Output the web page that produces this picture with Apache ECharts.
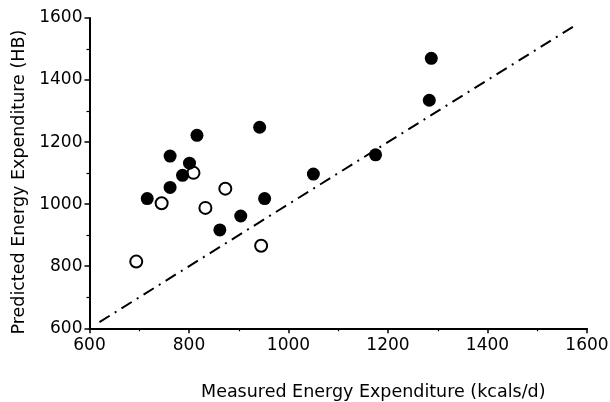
<!DOCTYPE html>
<html>
<head>
<meta charset="utf-8">
<script src="https://cdn.jsdelivr.net/npm/echarts@6/dist/echarts.min.js"></script>
<style>html,body{margin:0;padding:0;background:#fff;}#c{width:610px;height:402px;}</style>
</head>
<body>
<div id="c"></div>
<script>
// Measured (x) vs predicted HB (y), kcal/d
const filledX = [716, 762, 762, 787, 801, 816, 862, 904, 942, 952, 1050, 1175, 1283, 1287];
const filledY = [1018, 1054, 1155, 1093, 1132, 1222, 917, 962, 1248, 1018, 1097, 1159, 1335, 1470];
const openX = [694, 745, 809, 833, 873, 945];
const openY = [815, 1003, 1101, 988, 1050, 866];
const identityLine = [620, 1580];
const xTicks = [600, 800, 1000, 1200, 1400, 1600];
const yTicks = [600, 800, 1000, 1200, 1400, 1600];

const zip = (a, b) => a.map((v, i) => [v, b[i]]);
const font = 'DejaVu Sans';
const chart = echarts.init(document.getElementById('c'), null, {renderer: 'canvas'});
const axisCommon = {
  type: 'value', min: 600, max: 1600, interval: 200,
  axisLine: {show: true, onZero: false, lineStyle: {color: '#000', width: 2}},
  axisTick: {show: true, inside: false, length: 5, lineStyle: {color: '#000', width: 1.5}},
  minorTick: {show: true, splitNumber: 2, length: 3, lineStyle: {color: '#000', width: 1.2}},
  splitLine: {show: false},
  nameLocation: 'middle'
};
chart.setOption({
  animation: false,
  backgroundColor: '#fff',
  grid: {left: 89.5, right: 23, top: 18, bottom: 73.7, containLabel: false, outerBoundsMode: 'none'},
  xAxis: Object.assign({}, axisCommon, {
    name: 'Measured Energy Expenditure (kcals/d)',
    nameGap: 55,
    nameTextStyle: {fontFamily: font, fontSize: 17.5, color: '#000', padding: [0, 0, 0, 70]},
    axisLabel: {fontFamily: font, fontSize: 17, color: '#000', margin: 9,
      customValues: xTicks, formatter: v => String(v)}
  }),
  yAxis: Object.assign({}, axisCommon, {
    name: 'Predicted Energy Expenditure (HB)',
    nameGap: 56,
    nameTextStyle: {fontFamily: font, fontSize: 17.5, color: '#000', padding: [0, 18, 0, 0]},
    axisLabel: {fontFamily: font, fontSize: 17, color: '#000', margin: 7,
      customValues: yTicks, formatter: v => String(v)}
  }),
  series: [
    {
      type: 'line', data: zip(identityLine, identityLine), symbol: 'none',
      lineStyle: {color: '#000', width: 2, type: [12, 6, 2, 6]}, silent: true
    },
    {
      type: 'scatter', data: zip(openX, openY), symbol: 'circle', symbolSize: 12,
      itemStyle: {color: '#fff', borderColor: '#000', borderWidth: 2, opacity: 1}
    },
    {
      type: 'scatter', data: zip(filledX, filledY), symbol: 'circle', symbolSize: 13,
      itemStyle: {color: '#000', opacity: 1}
    }
  ]
});
</script>
</body>
</html>
